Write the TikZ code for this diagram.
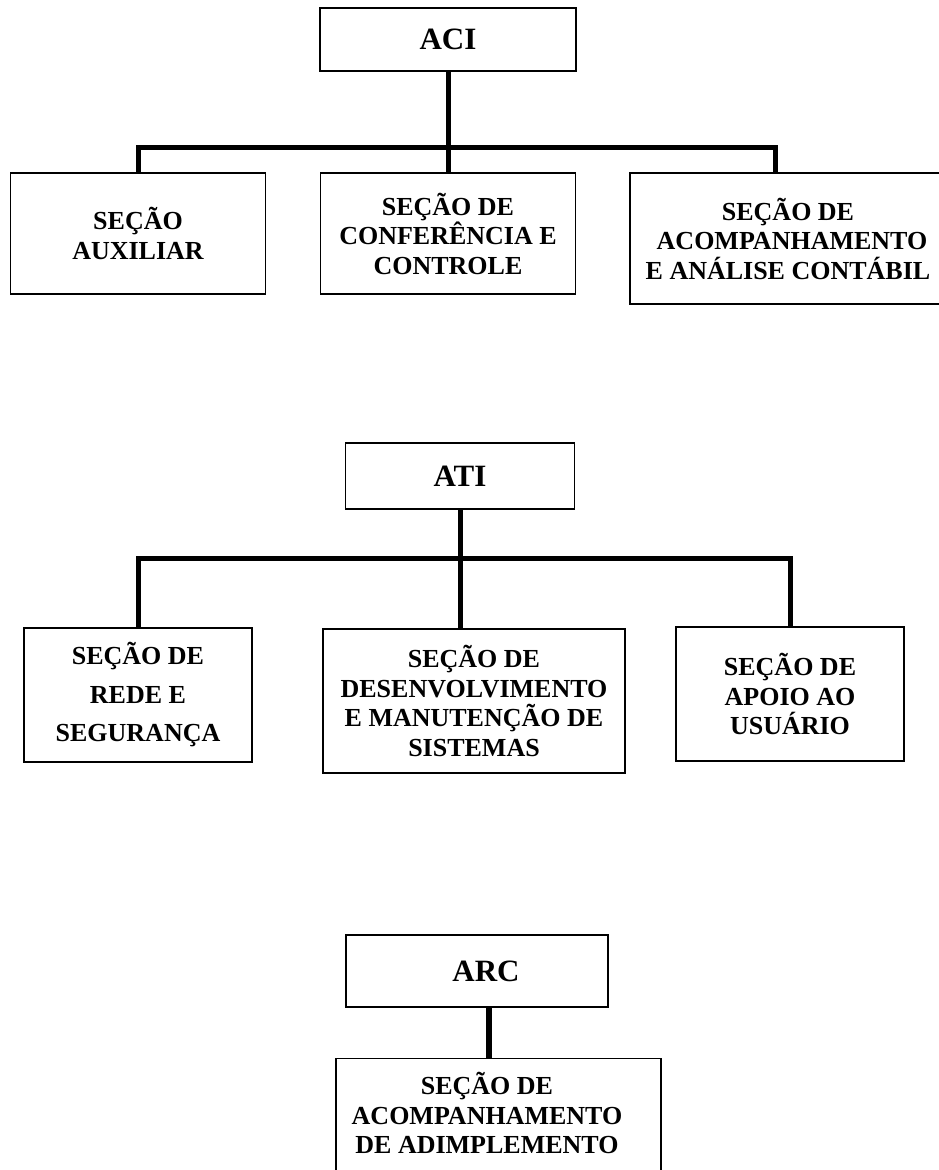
\documentclass[tikz,border=0pt]{standalone}
\usepackage{fontspec}
\setmainfont{Liberation Serif}

\begin{document}
\begin{tikzpicture}[x=1pt, y=-1pt,
    chefe/.style={draw, line width=1.3pt, inner sep=0pt, font={\fontsize{31}{36}\selectfont\bfseries}},
    secao/.style={draw, line width=1.3pt, inner sep=0pt, align=center, font={\fontsize{26}{29.5}\selectfont\bfseries}},
    texto/.style={inner sep=0pt, align=center, font={\fontsize{26}{29.5}\selectfont\bfseries}},
    liga/.style={line width=5pt, line join=miter}]
    \useasboundingbox (0,0) rectangle (939,1170);
    \clip (0,0) rectangle (939,1170);

    \node[chefe, minimum width=256pt, minimum height=63pt] (aci) at (448, 39.5) {ACI};
    \node[secao, minimum width=255pt, minimum height=121pt] (aux) at (138, 233.5) {SEÇÃO\\AUXILIAR};
    \node[secao, minimum width=255pt, minimum height=121pt] (conf) at (448, 233.5) {SEÇÃO DE\\CONFERÊNCIA E\\CONTROLE};
    \node[secao, minimum width=324pt, minimum height=131pt] (cont) at (792, 238.5) {SEÇÃO DE\hspace*{8pt}\\ACOMPANHAMENTO\hspace*{8pt}\\E ANÁLISE CONTÁBIL\hspace*{8pt}};
    \coordinate (b1) at (448, 147);
    \draw[liga] (aci.south) -- (conf.north);
    \draw[liga] (aux.north) |- (b1) -| ([xshift=-17pt]cont.north);

    \node[chefe, minimum width=229pt, minimum height=66pt] (ati) at (460, 476) {ATI};
    \node[secao, minimum width=228pt, minimum height=134pt] (rede) at (138, 695) {SEÇÃO DE\\[9pt]REDE E\\[9pt]SEGURANÇA};
    \node[secao, minimum width=302pt, minimum height=144pt] (sist) at (474, 701) {SEÇÃO DE\\DESENVOLVIMENTO\\E MANUTENÇÃO DE\\SISTEMAS};
    \node[secao, minimum width=228pt, minimum height=134pt] (apoio) at (790, 694) {SEÇÃO DE\\APOIO AO\\USUÁRIO};
    \coordinate (b2) at (460, 558);
    \draw[liga] (ati.south) -- (ati.south |- sist.north);
    \draw[liga] (rede.north) |- (b2) -| (apoio.north);

    \node[chefe, minimum width=262pt, minimum height=72pt] (arc) at (477, 971) {\hspace*{18pt}ARC};
    \node[draw, line width=1.3pt, anchor=north, minimum width=325pt, minimum height=150pt] (adim) at (498.5, 1058) {};
    \node[texto] (adimtxt) at (487, 1113) {SEÇÃO DE\\ACOMPANHAMENTO\\DE ADIMPLEMENTO};
    \draw[liga, line width=6.5pt] ([xshift=12pt]arc.south) -- ([xshift=12pt]arc.south |- adim.north);
\end{tikzpicture}
\end{document}
